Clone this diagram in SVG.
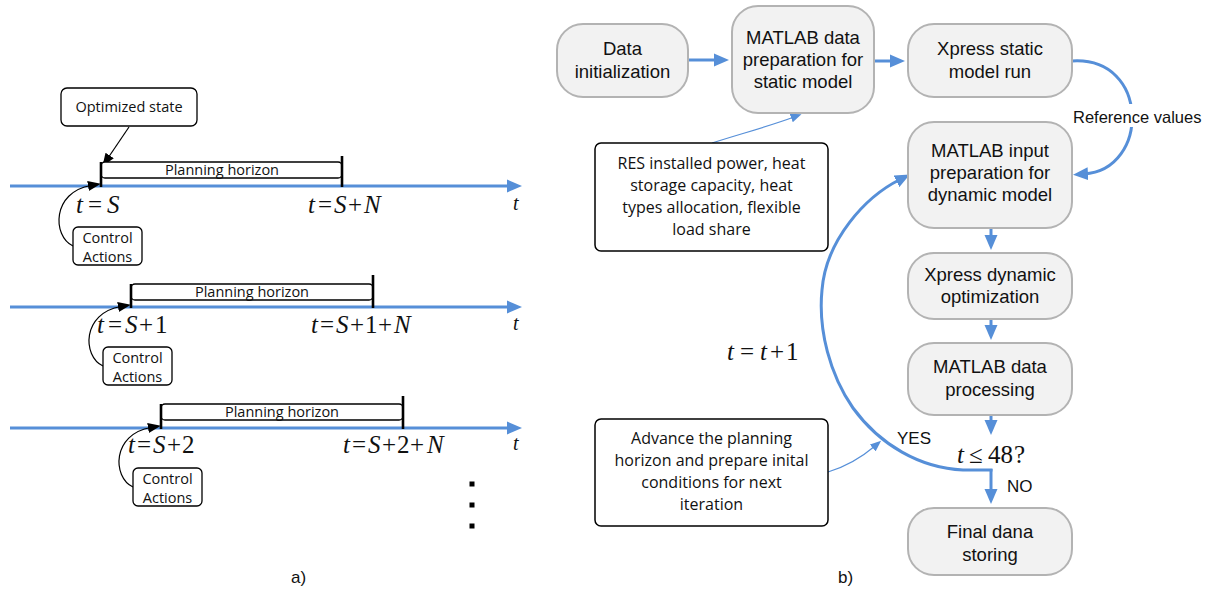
<svg xmlns="http://www.w3.org/2000/svg" width="1211" height="590" viewBox="0 0 1211 590">
<style>
.fc{fill:#f2f2f2;stroke:#b3b3b3;stroke-width:2}
.ft{font-family:"Liberation Sans",Arial,sans-serif;font-size:18.5px;fill:#111;text-anchor:middle}
.nb{fill:#fff;stroke:#000;stroke-width:1.5}
.nt{font-family:"Open Sans",sans-serif;font-size:16px;fill:#111;text-anchor:middle}
.st{font-family:"Open Sans",sans-serif;font-size:14.5px;fill:#111;text-anchor:middle}
.sb{fill:#fff;stroke:#000;stroke-width:1.3}
.m{font-family:"Liberation Serif","Times New Roman",serif;font-size:25px;fill:#111}
.i{font-style:italic}
.bl{fill:none;stroke:#568fd8;stroke-width:3}
.bt{fill:none;stroke:#568fd8;stroke-width:1.2}
.k{fill:none;stroke:#000;stroke-width:1.2}
.bar{stroke:#000;stroke-width:2.6}
.lab{font-family:"Liberation Sans",Arial,sans-serif;font-size:17px;fill:#111}
</style>
<defs>
<marker id="ab" markerUnits="userSpaceOnUse" markerWidth="16" markerHeight="14" refX="4" refY="6.5" orient="auto" viewBox="0 0 16 13"><path d="M0,0 L15,6.5 L0,13 z" fill="#568fd8"/></marker>
<marker id="abt" markerUnits="userSpaceOnUse" markerWidth="12" markerHeight="10" refX="3" refY="4.5" orient="auto" viewBox="0 0 12 9"><path d="M0,0 L11,4.5 L0,9 z" fill="#568fd8"/></marker>
<marker id="ak" markerUnits="userSpaceOnUse" markerWidth="14" markerHeight="12" refX="3" refY="5" orient="auto" viewBox="0 0 14 10"><path d="M0,0 L13,5 L0,10 z" fill="#000"/></marker>
</defs>
<rect width="1211" height="590" fill="#fff"/>

<!-- LEFT PANEL -->
<g id="connectors-left">
<path class="bl" d="M10 186 L511 186" marker-end="url(#ab)"/>
<path class="bl" d="M10 307 L511 307" marker-end="url(#ab)"/>
<path class="bl" d="M10 428 L511 428" marker-end="url(#ab)"/>
<path class="k" d="M129 127 L108 158" marker-end="url(#ak)"/>
<path class="k" d="M73 246 C 52 236, 52 192, 91 185.5" marker-end="url(#ak)"/>
<path class="k" d="M103 366 C 82 356, 82 313, 121 306.5" marker-end="url(#ak)"/>
<path class="k" d="M133 487 C 112 477, 112 434, 151 427.5" marker-end="url(#ak)"/>
</g>

<g id="timeline1">
<rect class="sb" x="101" y="162" width="241" height="16" rx="4"/>
<text class="st" x="222" y="175">Planning horizon</text>
<line class="bar" x1="101" y1="162" x2="101" y2="187"/>
<line class="bar" x1="342" y1="156" x2="342" y2="187"/>
<text class="m" y="213"><tspan class="i" x="76">t</tspan><tspan x="88">=</tspan><tspan class="i" x="107">S</tspan></text>
<text class="m" y="213"><tspan class="i" x="308">t</tspan><tspan x="318">=</tspan><tspan class="i" x="334">S</tspan><tspan x="348">+</tspan><tspan class="i" x="364">N</tspan></text>
<text class="m i" x="513" y="210" style="font-size:20px">t</text>
</g>
<g id="optimized-state">
<rect class="sb" x="61" y="88" width="136" height="38" rx="6"/>
<text class="st" x="129" y="112">Optimized state</text>
</g>
<g id="control1">
<rect class="sb" x="73" y="227" width="69" height="38" rx="5"/>
<text class="st" x="107.5" y="243">Control</text>
<text class="st" x="107.5" y="262">Actions</text>
</g>

<g id="timeline2">
<rect class="sb" x="131" y="284" width="242" height="16" rx="4"/>
<text class="st" x="252" y="297">Planning horizon</text>
<line class="bar" x1="131" y1="284" x2="131" y2="308"/>
<line class="bar" x1="373" y1="275" x2="373" y2="308"/>
<text class="m" y="333"><tspan class="i" x="97">t</tspan><tspan x="108">=</tspan><tspan class="i" x="125">S</tspan><tspan x="139">+</tspan><tspan x="155">1</tspan></text>
<text class="m" y="333"><tspan class="i" x="311">t</tspan><tspan x="320">=</tspan><tspan class="i" x="336">S</tspan><tspan x="350">+</tspan><tspan x="365">1</tspan><tspan x="378">+</tspan><tspan class="i" x="394">N</tspan></text>
<text class="m i" x="513" y="330" style="font-size:20px">t</text>
</g>
<g id="control2">
<rect class="sb" x="103" y="347" width="69" height="38" rx="5"/>
<text class="st" x="137.5" y="363">Control</text>
<text class="st" x="137.5" y="382">Actions</text>
</g>

<g id="timeline3">
<rect class="sb" x="161" y="404" width="242" height="16" rx="4"/>
<text class="st" x="282" y="417">Planning horizon</text>
<line class="bar" x1="161" y1="404" x2="161" y2="429"/>
<line class="bar" x1="403" y1="396" x2="403" y2="429"/>
<text class="m" y="453"><tspan class="i" x="128">t</tspan><tspan x="137">=</tspan><tspan class="i" x="153">S</tspan><tspan x="167">+</tspan><tspan x="182">2</tspan></text>
<text class="m" y="453"><tspan class="i" x="343">t</tspan><tspan x="352">=</tspan><tspan class="i" x="368">S</tspan><tspan x="382">+</tspan><tspan x="397">2</tspan><tspan x="410">+</tspan><tspan class="i" x="427">N</tspan></text>
<text class="m i" x="513" y="450" style="font-size:20px">t</text>
</g>
<g id="control3">
<rect class="sb" x="133" y="468" width="69" height="38" rx="5"/>
<text class="st" x="167.5" y="484">Control</text>
<text class="st" x="167.5" y="503">Actions</text>
</g>
<g id="dots">
<rect x="469.5" y="481.5" width="5" height="5" fill="#000"/>
<rect x="469.5" y="502.5" width="5" height="5" fill="#000"/>
<rect x="469.5" y="523.5" width="5" height="5" fill="#000"/>
</g>
<text class="lab" x="291" y="583">a)</text>

<!-- RIGHT PANEL -->
<g id="connectors-right">
<path class="bl" d="M688 60 L718 60" marker-end="url(#ab)"/>
<path class="bl" d="M874 61 L894 61" marker-end="url(#ab)"/>
<path class="bl" d="M1072 61 C 1150 56, 1150 170, 1084 174" marker-end="url(#ab)"/>
<path class="bl" d="M991 228 L991 239" marker-end="url(#ab)"/>
<path class="bl" d="M991 319 L991 329" marker-end="url(#ab)"/>
<path class="bl" d="M991 415 L991 424" marker-end="url(#ab)"/>
<path class="bl" d="M991 469 L991 493" marker-end="url(#ab)"/>
<path class="bl" d="M992.5 470 L963 470 C 920 468, 880 445, 853 408 C 830 375, 818 330, 822 290 C 826 240, 865 197, 900 179.5" marker-end="url(#ab)"/>
<path class="bt" d="M712 143 C 740 134, 770 126, 794 117" marker-end="url(#abt)"/>
<path class="bt" d="M828 472 C 848 466, 862 457, 875 446" marker-end="url(#abt)"/>
</g>

<g id="data-init">
<rect class="fc" x="557" y="24" width="131" height="73" rx="26"/>
<text class="ft" x="622.5" y="55">Data</text>
<text class="ft" x="622.5" y="78">initialization</text>
</g>
<g id="matlab-static">
<rect class="fc" x="732" y="6" width="142" height="107" rx="26"/>
<text class="ft" x="803" y="44">MATLAB data</text>
<text class="ft" x="803" y="66">preparation for</text>
<text class="ft" x="803" y="88">static model</text>
</g>
<g id="xpress-static">
<rect class="fc" x="908" y="24" width="164" height="73" rx="26"/>
<text class="ft" x="990" y="55">Xpress static</text>
<text class="ft" x="990" y="78">model run</text>
</g>
<g id="reference-values">
<rect x="1080" y="104" width="122" height="23" fill="#fff"/>
<text class="lab" x="1073" y="123" style="font-size:16.5px">Reference values</text>
</g>
<g id="matlab-input">
<rect class="fc" x="908" y="122" width="164" height="106" rx="26"/>
<text class="ft" x="990" y="157">MATLAB input</text>
<text class="ft" x="990" y="179">preparation for</text>
<text class="ft" x="990" y="201">dynamic model</text>
</g>
<g id="xpress-dynamic">
<rect class="fc" x="908" y="253" width="164" height="66" rx="26"/>
<text class="ft" x="990" y="281">Xpress dynamic</text>
<text class="ft" x="990" y="303">optimization</text>
</g>
<g id="matlab-processing">
<rect class="fc" x="908" y="343" width="164" height="72" rx="26"/>
<text class="ft" x="990" y="373">MATLAB data</text>
<text class="ft" x="990" y="396">processing</text>
</g>
<g id="decision">
<text class="m" y="463"><tspan class="i" x="957">t</tspan><tspan x="969">≤</tspan><tspan x="988">48</tspan><tspan x="1014">?</tspan></text>
<text class="lab" x="897" y="444">YES</text>
<text class="lab" x="1007" y="492">NO</text>
</g>
<g id="final">
<rect class="fc" x="908" y="508" width="164" height="67" rx="26"/>
<text class="ft" x="990" y="538">Final dana</text>
<text class="ft" x="990" y="561">storing</text>
</g>
<g id="res-note">
<rect class="nb" x="595" y="143" width="233" height="108" rx="6"/>
<text class="nt" x="711.5" y="169">RES installed power, heat</text>
<text class="nt" x="711.5" y="191">storage capacity, heat</text>
<text class="nt" x="711.5" y="213">types allocation, flexible</text>
<text class="nt" x="711.5" y="235">load share</text>
</g>
<g id="advance-note">
<rect class="nb" x="595" y="419" width="233" height="107" rx="6"/>
<text class="nt" x="711.5" y="444">Advance the planning</text>
<text class="nt" x="711.5" y="466">horizon and prepare inital</text>
<text class="nt" x="711.5" y="488">conditions for next</text>
<text class="nt" x="711.5" y="510">iteration</text>
</g>
<g id="loop-label">
<text class="m" y="360"><tspan class="i" x="727">t</tspan><tspan x="740">=</tspan><tspan class="i" x="760">t</tspan><tspan x="770">+</tspan><tspan x="786">1</tspan></text>
</g>
<text class="lab" x="838" y="583">b)</text>
</svg>
